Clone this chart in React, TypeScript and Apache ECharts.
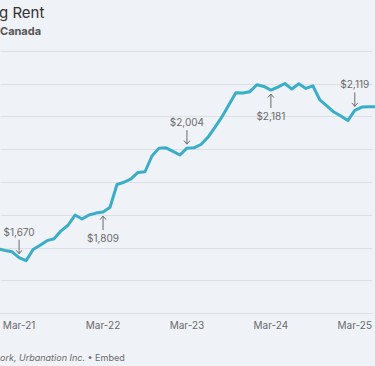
import React, { useEffect, useRef } from "react";
import * as echarts from "echarts";

const MONTH_NAMES = ["Jan", "Feb", "Mar", "Apr", "May", "Jun", "Jul", "Aug", "Sep", "Oct", "Nov", "Dec"];

const months = [
  "Dec-20",
  "Jan-21", "Feb-21", "Mar-21", "Apr-21", "May-21", "Jun-21", "Jul-21", "Aug-21", "Sep-21", "Oct-21", "Nov-21", "Dec-21",
  "Jan-22", "Feb-22", "Mar-22", "Apr-22", "May-22", "Jun-22", "Jul-22", "Aug-22", "Sep-22", "Oct-22", "Nov-22", "Dec-22",
  "Jan-23", "Feb-23", "Mar-23", "Apr-23", "May-23", "Jun-23", "Jul-23", "Aug-23", "Sep-23", "Oct-23", "Nov-23", "Dec-23",
  "Jan-24", "Feb-24", "Mar-24", "Apr-24", "May-24", "Jun-24", "Jul-24", "Aug-24", "Sep-24", "Oct-24", "Nov-24", "Dec-24",
  "Jan-25", "Feb-25", "Mar-25", "Apr-25", "May-25", "Jun-25",
];

const rent = [
  1697,
  1692, 1688, 1670, 1661, 1695, 1708, 1722, 1728, 1752, 1769, 1800, 1788,
  1800, 1806, 1809, 1824, 1893, 1900, 1910, 1930, 1932, 1980, 2004, 2005,
  1994, 1983, 2004, 2005, 2015, 2037, 2067, 2099, 2136, 2173, 2172, 2176,
  2197, 2192, 2181, 2190, 2201, 2184, 2200, 2186, 2194, 2151, 2133, 2114,
  2102, 2088, 2119, 2129, 2130, 2130,
];

const xTickLabels = ["Mar-21", "Mar-22", "Mar-23", "Mar-24", "Mar-25"];

const annotationMonths = ["Mar-21", "Mar-22", "Mar-23", "Mar-24", "Mar-25"];
const annotationValues = [1670, 1809, 2004, 2181, 2119];
const annotationLabels = ["$1,670", "$1,809", "$2,004", "$2,181", "$2,119"];
const annotationSides = ["above", "below", "above", "below", "above"];

const titleFragment = "g Rent";
const subtitleFragment = "Canada";
const sourceFragment = "ork, Urbanation Inc.";
const embedText = " \u2022 Embed";

function monthIndex(label: string): number {
  const [m, y] = label.split("-");
  return (2000 + Number(y) - 2020) * 12 + MONTH_NAMES.indexOf(m);
}

function monthLabel(idx: number): string {
  const r = Math.round(idx);
  const y = Math.floor(r / 12) + 20;
  return MONTH_NAMES[r % 12] + "-" + String(y).padStart(2, "0");
}

const TEXT_GRAY = "#6b6b6b";
const FONT = "Inter, 'Noto Sans', sans-serif";

export default function App() {
  const ref = useRef<HTMLDivElement>(null);

  useEffect(() => {
    if (!ref.current) return;
    const chart = echarts.init(ref.current, undefined, { renderer: "svg" });

    const lineData = months.map((m, i) => [monthIndex(m), rent[i]]);
    const annData = annotationMonths.map((m, i) => [
      monthIndex(m),
      annotationValues[i],
      annotationSides[i] === "above" ? -1 : 1,
    ]);

    chart.setOption({
      animation: false,
      backgroundColor: "transparent",
      grid: { left: 0, right: 0, top: 51, bottom: 52.5 },
      xAxis: {
        type: "value",
        min: 11.38,
        max: 64.5,
        axisLine: { show: true, lineStyle: { color: "#dcdfe5", width: 1 } },
        axisTick: { show: false },
        splitLine: { show: false },
        axisLabel: {
          customValues: xTickLabels.map(monthIndex),
          formatter: (v: number) => monthLabel(v),
          color: TEXT_GRAY,
          fontSize: 10,
          fontFamily: FONT,
          margin: 6,
        },
      },
      yAxis: {
        type: "value",
        min: 1500,
        max: 2300,
        interval: 100,
        axisLine: { show: false },
        axisTick: { show: false },
        axisLabel: { show: false },
        splitLine: { lineStyle: { color: "#dcdfe5", width: 1 } },
      },
      graphic: [
        {
          type: "text",
          x: -1,
          y: 12,
          style: {
            text: titleFragment,
            fontSize: 15,
            fontFamily: FONT,
            fill: "#333333",
            verticalAlign: "middle",
          },
        },
        {
          type: "text",
          x: 0,
          y: 31,
          style: {
            text: subtitleFragment,
            fontSize: 11,
            fontWeight: "bold",
            fontFamily: FONT,
            fill: "#555555",
            verticalAlign: "middle",
          },
        },
        {
          type: "text",
          x: 0,
          y: 357.5,
          style: {
            text: "{i|" + sourceFragment + "}{n|" + embedText + "}",
            verticalAlign: "middle",
            rich: {
              i: { fontSize: 9, fontStyle: "italic", fontFamily: FONT, fill: TEXT_GRAY, color: TEXT_GRAY },
              n: { fontSize: 9, fontFamily: FONT, fill: TEXT_GRAY, color: TEXT_GRAY },
            },
          },
        },
      ],
      series: [
        {
          type: "line",
          data: lineData,
          symbol: "none",
          smooth: false,
          lineStyle: { color: "#3aaec8", width: 3, join: "round", cap: "round" },
          z: 3,
        },
        {
          type: "custom",
          data: annData,
          clip: false,
          z: 4,
          renderItem: (params: any, api: any) => {
            const i = params.dataIndex;
            const p = api.coord([api.value(0), api.value(1)]);
            const s = api.value(2);
            const textY = p[1] + s * 26;
            const a0 = p[1] + s * 18;
            const tip = p[1] + s * 4;
            const head = tip + s * 3.5;
            return {
              type: "group",
              children: [
                {
                  type: "text",
                  style: {
                    text: annotationLabels[i],
                    x: p[0],
                    y: textY,
                    align: "center",
                    verticalAlign: "middle",
                    fill: TEXT_GRAY,
                    fontSize: 10,
                    fontFamily: FONT,
                  },
                },
                {
                  type: "line",
                  shape: { x1: p[0], y1: a0, x2: p[0], y2: tip },
                  style: { stroke: TEXT_GRAY, lineWidth: 1 },
                },
                {
                  type: "polyline",
                  shape: { points: [[p[0] - 3, head], [p[0], tip], [p[0] + 3, head]] },
                  style: { stroke: TEXT_GRAY, lineWidth: 1, fill: "none" },
                },
              ],
            };
          },
        },
      ],
    });

    return () => chart.dispose();
  }, []);

  return (
    <div
      style={{
        position: "fixed",
        left: 0,
        top: 0,
        width: 375,
        height: 366,
        background: "#eff2f6",
        overflow: "hidden",
      }}
    >
      <div ref={ref} style={{ width: 375, height: 366 }} />
    </div>
  );
}
